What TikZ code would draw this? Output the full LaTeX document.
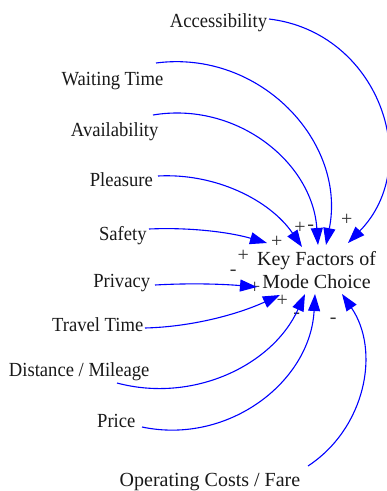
\documentclass[tikz,border=0pt]{standalone}
\usepackage{fontspec}
\setmainfont{Liberation Serif}
\newfontfamily\labelserif{Liberation Serif}[FakeStretch=0.93]
\usetikzlibrary{arrows.meta}
\begin{document}
\begin{tikzpicture}[x=1pt,y=-1pt,
  var/.style={anchor=base,inner sep=0pt,font=\labelserif\fontsize{20}{23.3}\selectfont,text=black!90},
  widevar/.style={var,font=\fontsize{20}{23.3}\selectfont},
  goal/.style={anchor=center,align=center,inner sep=0pt,font=\fontsize{20}{23.3}\selectfont,text=black!90},
  sign/.style={anchor=base,inner sep=0pt,font=\fontsize{20}{23.3}\selectfont,text=black!80},
  link/.style={draw=blue,line width=1.1pt,-{Triangle[length=17pt,width=12pt]}}]
\useasboundingbox (0,0) rectangle (387,491);

% causes
\node[var] (acc)    at (218.5,27.7)  {Accessibility};
\node[var] (wait)   at (112.5,85)    {Waiting Time};
\node[var] (avail)  at (114.7,136)   {Availability};
\node[var] (pleas)  at (121.3,186)   {Pleasure};
\node[var] (safe)   at (122.8,240)   {Safety};
\node[var] (priv)   at (121.7,287.3) {Privacy};
\node[var] (travel) at (97.7,331.7)  {Travel Time};
\node[var] (dist)   at (79.2,376.7)  {Distance / Mileage};
\node[var] (price)  at (116.3,427.3) {Price};
\node[widevar] (opcost) at (210,486.8) {Operating Costs / Fare};

% effect
\node[goal] (key) at (316.5,270) {Key Factors of\\Mode Choice};

% link polarities
\node[sign] (s1)  at (300,233.7)   {+};
\node[sign] (s2)  at (310.7,230.3) {-};
\node[sign] (s3)  at (346.7,225.3) {+};
\node[sign] (s4)  at (276.7,247)   {+};
\node[sign] (s5)  at (243.3,261.7) {+};
\node[sign] (s6)  at (233.3,275.7) {-};
\node[sign] (s7)  at (254.7,293)   {+};
\node[sign] (s8)  at (282.3,306.8) {+};
\node[sign] (s9)  at (296.7,318)   {-};
\node[sign] (s10) at (333.3,323.7) {-};

% causal links
\draw[link] ([shift={(50.5,-8.7)}]acc.base)
  .. controls +(109.1,12.9) and +(76.9,-78.5) .. ([shift={(31.5,-27)}]key.center);
\draw[link] ([shift={(43.5,-22)}]wait.base)
  .. controls +(104.1,-13.7) and +(20.7,-102.9) .. ([shift={(9.5,-25)}]key.center);
\draw[link] ([shift={(38.3,-21)}]avail.base)
  .. controls +(82.6,-13.9) and +(-5.8,-83.6) .. ([shift={(1.5,-25)}]key.center);
\draw[link] ([shift={(36.7,-10)}]pleas.base)
  .. controls +(57.1,-3.1) and +(-32.3,-47.2) .. ([shift={(-14.5,-23)}]key.center);
\draw[link] ([shift={(26.2,-11)}]safe.base)
  .. controls +(39.8,-1.8) and +(-38.3,-11.1) .. ([shift={(-49.5,-27)}]key.center);
\draw[link] ([shift={(33.3,-2.3)}]priv.base)
  .. controls +(35,-2) and +(-35,-3) .. ([shift={(-59.5,17)}]key.center);
\draw[link] ([shift={(47.3,-3.7)}]travel.base)
  .. controls +(46.8,-1.2) and +(-42.6,19.5) .. ([shift={(-36.5,25)}]key.center);
\draw[link] ([shift={(37.8,6.3)}]dist.base)
  .. controls +(75.9,20.3) and +(-32.4,71.6) .. ([shift={(-11.5,24)}]key.center);
\draw[link] ([shift={(25.7,-0.3)}]price.base)
  .. controls +(86.2,18.1) and +(-4.7,88) .. ([shift={(-1.5,24)}]key.center);
\draw[link] ([shift={(98,-20.8)}]opcost.base)
  .. controls +(57.4,-37.7) and +(38.8,56.7) .. ([shift={(25.5,24)}]key.center);
\end{tikzpicture}
\end{document}
